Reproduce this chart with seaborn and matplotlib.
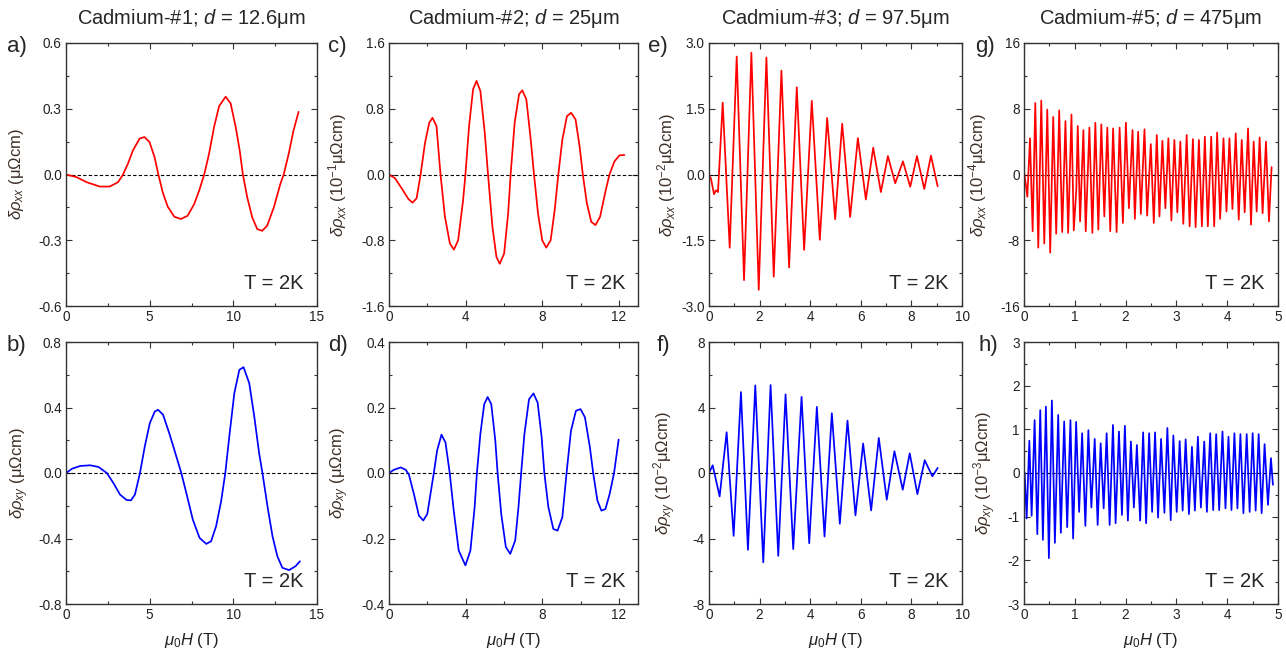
import numpy as np
import matplotlib
matplotlib.use("Agg")
import matplotlib.pyplot as plt
from matplotlib.ticker import AutoMinorLocator, FormatStrFormatter
import seaborn as sns

# ---------- data ----------
# Cadmium-#1 (d = 12.6 um)
a_field = [0, 0.63, 1.23, 2.02, 2.61, 3.11, 3.41, 3.70, 4.0, 4.4, 4.69, 4.99, 5.29, 5.52, 5.78, 6.08,
           6.48, 6.87, 7.27, 7.66, 7.96, 8.26, 8.55, 8.85, 9.15, 9.54, 9.84, 10.14, 10.38, 10.57,
           10.83, 11.13, 11.43, 11.72, 12.02, 12.42, 12.81, 13.01, 13.31, 13.6, 13.9]
a_rho_xx = [0, -0.012, -0.035, -0.055, -0.055, -0.035, 0.0, 0.049, 0.11, 0.164, 0.171, 0.148, 0.080,
            0.0, -0.081, -0.147, -0.193, -0.203, -0.188, -0.135, -0.073, 0.0, 0.095, 0.217, 0.312,
            0.355, 0.324, 0.217, 0.11, 0.0, -0.104, -0.196, -0.249, -0.257, -0.234, -0.150, -0.043,
            0.0, 0.095, 0.202, 0.286]

b_field = [0, 0.36, 0.85, 1.45, 1.94, 2.44, 2.83, 3.23, 3.62, 3.88, 4.12, 4.42, 4.71, 5.01, 5.31, 5.5,
           5.8, 6.2, 6.59, 6.89, 7.19, 7.58, 7.98, 8.38, 8.67, 8.97, 9.27, 9.52, 9.76, 10.06, 10.36,
           10.61, 10.95, 11.25, 11.54, 11.74, 12.04, 12.34, 12.63, 12.93, 13.33, 13.72, 13.98]
b_rho_xy = [0, 0.026, 0.043, 0.047, 0.037, 0.0, -0.061, -0.132, -0.165, -0.167, -0.132, 0.0, 0.163,
            0.305, 0.376, 0.386, 0.356, 0.234, 0.102, 0.0, -0.122, -0.285, -0.396, -0.433, -0.417,
            -0.325, -0.173, 0.0, 0.224, 0.488, 0.63, 0.646, 0.549, 0.346, 0.122, 0.0, -0.203,
            -0.386, -0.508, -0.579, -0.593, -0.569, -0.539]

# Cadmium-#2 (d = 25 um)
c_field = [0, 0.31, 0.66, 1.01, 1.23, 1.44, 1.65, 1.88, 2.1, 2.27, 2.48, 2.69, 2.92, 3.18, 3.39, 3.61,
           3.87, 3.99, 4.18, 4.39, 4.57, 4.77, 5.0, 5.17, 5.4, 5.61, 5.78, 6.01, 6.22, 6.35, 6.56,
           6.79, 6.96, 7.17, 7.4, 7.57, 7.78, 8.0, 8.21, 8.44, 8.65, 8.84, 9.05, 9.29, 9.51, 9.74,
           9.95, 10.12, 10.33, 10.56, 10.78, 11.02, 11.3, 11.51, 11.77, 12.03, 12.29]
c_rho_xx = [0, -0.045, -0.167, -0.298, -0.343, -0.29, 0, 0.384, 0.629, 0.69, 0.588, 0, -0.514, -0.841,
            -0.914, -0.8, -0.31, 0, 0.588, 1.037, 1.139, 1.016, 0.506, 0, -0.637, -1.004, -1.086,
            -0.963, -0.473, 0, 0.629, 0.976, 1.024, 0.914, 0.424, 0, -0.473, -0.8, -0.89, -0.8,
            -0.433, 0, 0.424, 0.71, 0.751, 0.669, 0.343, 0, -0.351, -0.576, -0.616, -0.514, -0.208,
            0, 0.159, 0.233, 0.237]

d_field = [0, 0.26, 0.61, 0.87, 1.04, 1.3, 1.56, 1.79, 2.0, 2.22, 2.34, 2.51, 2.74, 2.95, 3.17, 3.38,
           3.64, 3.99, 4.25, 4.47, 4.59, 4.77, 4.97, 5.15, 5.34, 5.55, 5.67, 5.86, 6.1, 6.33, 6.59,
           6.76, 6.9, 7.07, 7.31, 7.54, 7.76, 7.97, 8.11, 8.32, 8.58, 8.8, 9.05, 9.27, 9.5, 9.76,
           10.0, 10.23, 10.49, 10.66, 10.88, 11.09, 11.3, 11.52, 11.75, 11.99]
d_rho_xy = [0, 0.01, 0.017, 0.01, -0.005, -0.064, -0.13, -0.145, -0.125, -0.044, 0, 0.068, 0.117,
            0.093, 0, -0.115, -0.237, -0.282, -0.237, -0.105, 0, 0.119, 0.21, 0.232, 0.21, 0.099, 0,
            -0.125, -0.226, -0.247, -0.206, -0.104, 0, 0.119, 0.225, 0.243, 0.215, 0.109, 0, -0.104,
            -0.171, -0.176, -0.135, 0, 0.129, 0.19, 0.195, 0.17, 0.078, 0, -0.084, -0.115, -0.11,
            -0.064, 0, 0.102]

# Cadmium-#3 (d = 97.5 um)
e_field = [0, 0.08, 0.198, 0.277, 0.356, 0.541, 0.818, 1.095, 1.385, 1.675, 1.966, 2.269, 2.559,
           2.863, 3.166, 3.47, 3.76, 4.063, 4.38, 4.67, 4.987, 5.264, 5.58, 5.884, 6.2, 6.49, 6.794,
           7.071, 7.361, 7.665, 7.955, 8.219, 8.509, 8.773, 9.037]
e_rho_xx = [0, -0.1, -0.45, -0.36, -0.40, 1.64, -1.67, 2.69, -2.41, 2.78, -2.63, 2.67, -2.33, 2.37,
            -2.12, 1.99, -1.72, 1.68, -1.49, 1.29, -1.02, 1.16, -0.97, 0.83, -0.57, 0.61, -0.40,
            0.42, -0.20, 0.30, -0.28, 0.42, -0.33, 0.43, -0.27]

f_field = [0, 0.145, 0.421, 0.697, 0.974, 1.263, 1.539, 1.829, 2.145, 2.434, 2.737, 3.026, 3.329,
           3.658, 3.961, 4.263, 4.566, 4.855, 5.171, 5.474, 5.789, 6.092, 6.408, 6.711, 7.026,
           7.329, 7.658, 7.934, 8.237, 8.526, 8.829, 9.039]
f_rho_xy = [0, 0.47, -1.43, 2.49, -3.84, 4.94, -4.69, 5.35, -5.45, 5.37, -5.06, 4.80, -4.65, 4.65,
            -4.29, 4.04, -3.88, 3.65, -3.10, 3.20, -2.59, 1.80, -2.29, 2.14, -1.63, 1.33, -1.02,
            1.20, -1.29, 0.78, -0.20, 0.31]

# Cadmium-#5 (d = 475 um)
g_field = [0.01, 0.066, 0.118, 0.170, 0.222, 0.281, 0.340, 0.399, 0.458, 0.516, 0.575, 0.634, 0.693,
           0.752, 0.816, 0.869, 0.934, 0.98, 1.03, 1.058, 1.104, 1.169, 1.215, 1.287, 1.346, 1.404,
           1.463, 1.522, 1.581, 1.640, 1.698, 1.754, 1.823, 1.882, 1.947, 2.006, 2.065, 2.136,
           2.182, 2.247, 2.300, 2.372, 2.424, 2.496, 2.555, 2.614, 2.666, 2.724, 2.783, 2.842,
           2.901, 2.960, 3.018, 3.077, 3.136, 3.202, 3.260, 3.325, 3.378, 3.443, 3.502, 3.560,
           3.619, 3.685, 3.744, 3.802, 3.861, 3.927, 3.986, 4.044, 4.103, 4.168, 4.227, 4.286,
           4.344, 4.41, 4.469, 4.521, 4.580, 4.638, 4.697, 4.763, 4.822, 4.874]
g_rho_xx = [0, -2.7, 4.4, -6.9, 8.7, -8.9, 9.0, -8.4, 7.9, -9.5, 7.0, -7.2, 7.8, -7.0, 6.5, -7.1,
            7.3, -6.8, -1.8, 5.9, -5.7, 5.4, -6.9, 5.7, -7.1, 6.3, -6.7, 6.1, -5.1, 5.7, -6.9, 5.6,
            -7.0, 5.7, -5.9, 6.3, -4.1, 5.4, -5.4, 5.2, -4.8, 5.5, -5.0, 3.7, -5.9, 4.8, -5.1, 4.1,
            -4.1, 4.4, -5.6, 4.2, -4.6, 4.0, -6.0, 4.8, -6.3, 4.3, -6.4, 4.2, -6.3, 4.6, -6.3, 4.6,
            -6.3, 5.1, -5.4, 4.4, -4.5, 4.4, -4.2, 5.0, -5.5, 4.2, -4.6, 5.6, -6.1, 4.0, -4.5, 4.5,
            -4.7, 4.0, -5.7, 0.9]

h_field = [0.013, 0.052, 0.105, 0.150, 0.209, 0.262, 0.320, 0.372, 0.431, 0.49, 0.549, 0.608, 0.673,
           0.725, 0.791, 0.850, 0.914, 0.967, 1.026, 1.085, 1.144, 1.208, 1.267, 1.326, 1.392,
           1.450, 1.509, 1.568, 1.627, 1.686, 1.751, 1.803, 1.869, 1.928, 1.986, 2.045, 2.104,
           2.163, 2.222, 2.286, 2.345, 2.404, 2.463, 2.522, 2.580, 2.639, 2.698, 2.764, 2.822,
           2.888, 2.94, 3.006, 3.064, 3.123, 3.182, 3.247, 3.306, 3.364, 3.423, 3.482, 3.548, 3.600,
           3.665, 3.724, 3.783, 3.842, 3.907, 3.966, 4.025, 4.084, 4.142, 4.201, 4.260, 4.319,
           4.384, 4.442, 4.501, 4.560, 4.619, 4.678, 4.736, 4.802, 4.861, 4.9]
h_rho_xy = [0, -1.04, 0.74, -0.98, 1.21, -1.40, 1.44, -1.53, 1.52, -1.95, 1.66, -1.60, 1.33, -1.37,
            1.18, -1.24, 1.21, -1.50, 1.17, -0.89, 0.91, -1.21, 0.98, -0.79, 0.78, -1.19, 0.68,
            -0.81, 0.91, -1.19, 1.10, -1.15, 0.95, -0.96, 1.08, -1.09, 0.72, -0.79, 0.64, -1.09,
            0.93, -1.15, 0.91, -0.89, 0.93, -1.02, 0.78, -0.91, 1.03, -1.08, 0.86, -0.89, 0.73,
            -0.86, 0.77, -0.94, 0.60, -0.86, 0.83, -0.79, 0.72, -0.89, 0.91, -0.85, 0.89, -0.85,
            0.95, -0.81, 0.83, -0.85, 0.91, -0.81, 0.89, -0.92, 0.89, -0.89, 0.91, -0.86, 0.89,
            -0.92, 0.66, -0.73, 0.34, -0.27]

titles = [r"Cadmium-#1; $d$ = 12.6μm", r"Cadmium-#2; $d$ = 25μm",
          r"Cadmium-#3; $d$ = 97.5μm", r"Cadmium-#5; $d$ = 475μm"]

# ---------- style ----------
sns.set_style("ticks")
plt.rcParams["font.family"] = ["Liberation Sans", "DejaVu Sans"]
plt.rcParams["mathtext.fontset"] = "custom"
plt.rcParams["mathtext.rm"] = "Liberation Sans"
plt.rcParams["mathtext.it"] = "Liberation Sans:italic"
plt.rcParams["mathtext.bf"] = "Liberation Sans:bold"
plt.rcParams["axes.unicode_minus"] = False

W, H = 1286, 654
fig = plt.figure(figsize=(W / 100, H / 100), dpi=100)

col_px = [(66, 317), (389, 638), (709, 962), (1024, 1278)]
row_px = [(43, 306), (342, 604)]

panels = [
    # (row, col, x, y, color, xmax, xstep, ymax, ystep, fmt, ylabel, letter, letter_dx, ylabel_dx)
    (0, 0, a_field, a_rho_xx, "red", 15, 5, 0.6, 0.3, "%.1f", r"$\delta\rho_{xx}$ (μΩcm)", "a)", -59, -49),
    (1, 0, b_field, b_rho_xy, "blue", 15, 5, 0.8, 0.4, "%.1f", r"$\delta\rho_{xy}$ (μΩcm)", "b)", -59, -46),
    (0, 1, c_field, c_rho_xx, "red", 13, 4, 1.6, 0.8, "%.1f", r"$\delta\rho_{xx}$ (10$^{-1}$μΩcm)", "c)", -61, -51),
    (1, 1, d_field, d_rho_xy, "blue", 13, 4, 0.4, 0.2, "%.1f", r"$\delta\rho_{xy}$ (μΩcm)", "d)", -61, -49),
    (0, 2, e_field, e_rho_xx, "red", 10, 2, 3.0, 1.5, "%.1f", r"$\delta\rho_{xx}$ (10$^{-2}$μΩcm)", "e)", -61, -42),
    (1, 2, f_field, f_rho_xy, "blue", 10, 2, 8, 4, "%d", r"$\delta\rho_{xy}$ (10$^{-2}$μΩcm)", "f)", -52, -44),
    (0, 3, g_field, g_rho_xx, "red", 5, 1, 16, 8, "%d", r"$\delta\rho_{xx}$ (10$^{-4}$μΩcm)", "g)", -49, -46),
    (1, 3, h_field, h_rho_xy, "blue", 5, 1, 3, 1, "%d", r"$\delta\rho_{xy}$ (10$^{-3}$μΩcm)", "h)", -46, -39),
]

for row, col, xs, ys, color, xmax, xstep, ymax, ystep, fmt, ylabel, letter, ldx, ydx in panels:
    x0, x1 = col_px[col]
    y0, y1 = row_px[row]
    ax = fig.add_axes([x0 / W, 1 - y1 / H, (x1 - x0) / W, (y1 - y0) / H])

    ax.axhline(0, color="black", lw=0.8, ls=(0, (3, 2)), zorder=1)
    sns.lineplot(x=xs, y=ys, ax=ax, color=color, lw=1.25, estimator=None, sort=False, zorder=2,
                 solid_joinstyle="round")

    ax.set_xlim(0, xmax)
    ax.set_ylim(-ymax, ymax)
    ax.set_xticks(np.arange(0, xmax + 0.01, xstep))
    ax.set_yticks(np.arange(-ymax, ymax + ymax * 0.01, ystep))
    ax.yaxis.set_major_formatter(FormatStrFormatter(fmt))
    ax.xaxis.set_minor_locator(AutoMinorLocator(2))
    ax.yaxis.set_minor_locator(AutoMinorLocator(2))
    ax.tick_params(which="both", direction="in", top=True, right=True, width=0.8,
                   colors="#333333", labelcolor="#222222", labelsize=9.8, pad=3)
    ax.tick_params(which="major", length=4)
    ax.tick_params(which="minor", length=2)
    for sp in ax.spines.values():
        sp.set_color("#333333")
        sp.set_linewidth(1.0)

    ax.set_ylabel(ylabel, fontsize=12, color="#3d3029")
    ax.yaxis.label.set_va("center")
    ax.yaxis.set_label_coords(ydx / (x1 - x0), 0.5)
    if row == 1:
        ax.set_xlabel(r"$\mu_{\mathit{0}}H$ (T)", fontsize=12, color="#222222", labelpad=6)
    else:
        ax.set_xlabel("")

    ax.text(0.948, 0.05, "T = 2K", transform=ax.transAxes, ha="right", va="bottom", fontsize=14.5)
    fig.text((x0 + ldx) / W, 1 - (y0 - 7) / H, letter, ha="left", va="top", fontsize=16)

for col, title in enumerate(titles):
    x0, x1 = col_px[col]
    fig.text((x0 + x1) / 2 / W, 1 - 19 / H, title, ha="center", va="center", fontsize=14.5)

fig.savefig("out.png", dpi=100)
